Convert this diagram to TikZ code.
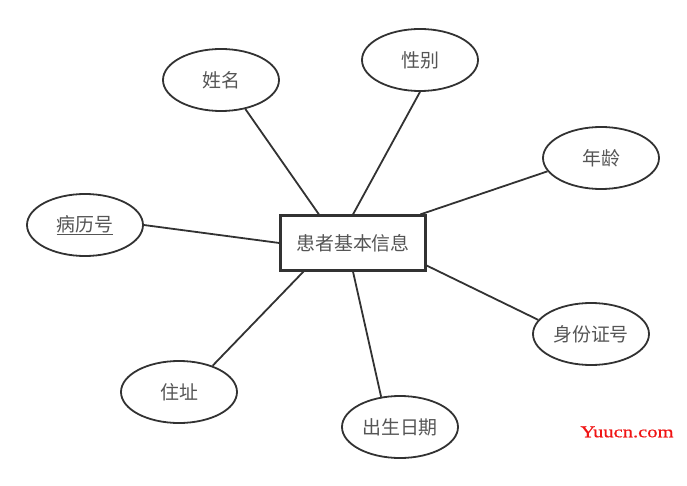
\documentclass[tikz,border=0pt]{standalone}
\usepackage{fontspec}
\setmainfont{Noto Sans CJK SC}
\newfontfamily\wmfont[FakeStretch=1.25, FakeBold=0.5]{Liberation Serif}
\usetikzlibrary{shapes.geometric, positioning}
\definecolor{edgegray}{RGB}{50,50,50}
\definecolor{textgray}{RGB}{85,85,85}
\definecolor{markred}{RGB}{240,20,20}

\begin{document}
\begin{tikzpicture}[x=1bp, y=-1bp,
  attr/.style={draw=edgegray, line width=1.8bp, ellipse, minimum width=116bp, minimum height=62bp, inner sep=0pt, text=textgray, font=\fontsize{19}{22}\selectfont},
  entity/.style={draw=edgegray, line width=2.2bp, rectangle, minimum width=145bp, minimum height=55bp, inner sep=0pt, text=textgray, font=\fontsize{19}{22}\selectfont},
  link/.style={draw=edgegray, line width=1.8bp}
]
  \useasboundingbox (0,0) rectangle (687,486);

  \node[entity] (info) at (353,243) {患者基本信息};

  \node[attr] (xingming) at (221,80)  {姓名};
  \node[attr] (xingbie)  at (420,60)  {性别};
  \node[attr] (nianling) at (601,158) {年龄};
  \node[attr] (bingli)   at (85,225)  {\underline{病历号}};
  \node[attr] (shenfen)  at (591,334) {身份证号};
  \node[attr] (zhuzhi)   at (179,392) {住址};
  \node[attr] (chusheng) at (400,427) {出生日期};

  \draw[link] (xingming.-50) -- (info.140);
  \draw[link] (xingbie.south) -- (info.north);
  \draw[link] (nianling.194) -- (info.23);
  \draw[link] (bingli.east) -- (info.west);
  \draw[link] (shenfen.165) -- (info.-17);
  \draw[link] (zhuzhi.38) -- (info.210);
  \draw[link] (chusheng.122) -- (info.south);

  \node[text=markred, font=\wmfont\fontsize{16.5}{18}\selectfont] (mark) at (627,432) {Yuucn.com};
\end{tikzpicture}
\end{document}
